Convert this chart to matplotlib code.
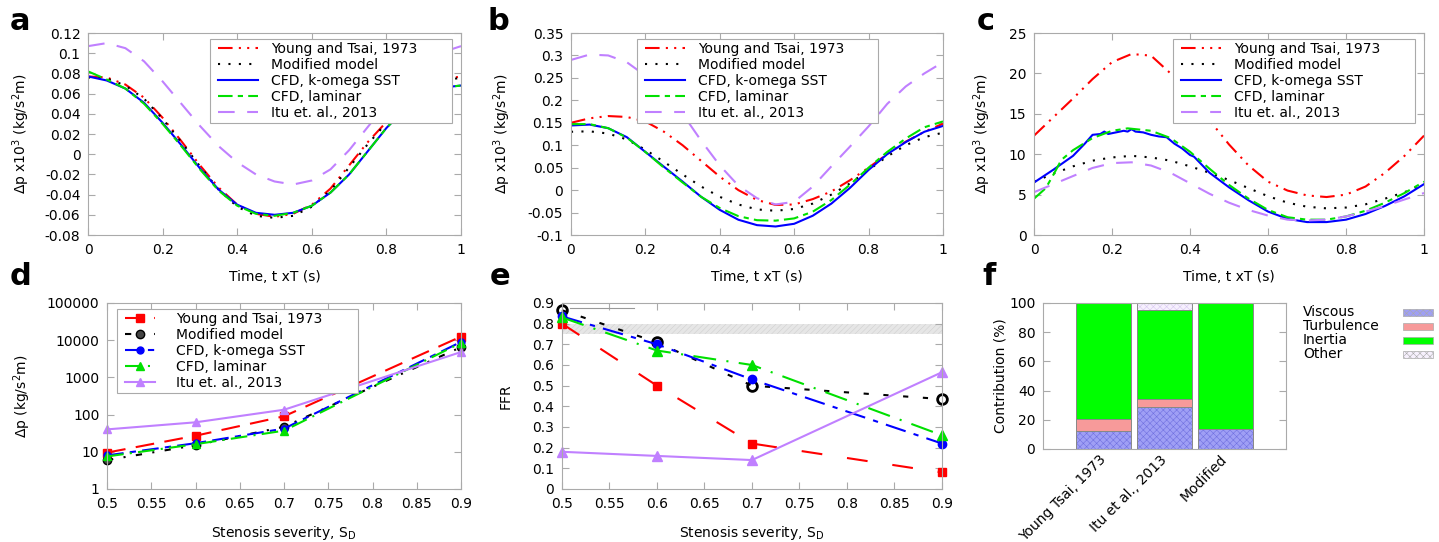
import matplotlib
matplotlib.use('Agg')
import numpy as np
import matplotlib.pyplot as plt
from matplotlib.patches import Rectangle
from matplotlib.ticker import FormatStrFormatter, FixedLocator, FixedFormatter

plt.rcParams['font.family'] = ['DejaVu Sans']
plt.rcParams['font.size'] = 10
plt.rcParams['axes.unicode_minus'] = False
plt.rcParams['mathtext.default'] = 'regular'
plt.rcParams['hatch.linewidth'] = 0.4

# ---- data ----
t = [0.0, 0.05, 0.1, 0.15, 0.2, 0.25, 0.3, 0.35, 0.4, 0.45, 0.5,
     0.55, 0.6, 0.65, 0.7, 0.75, 0.8, 0.85, 0.9, 0.95, 1.0]

# panel a
young_a = [0.077, 0.076, 0.069, 0.056, 0.036, 0.013, -0.011, -0.033, -0.050, -0.059, -0.062,
           -0.059, -0.050, -0.034, -0.011, 0.012, 0.032, 0.050, 0.065, 0.074, 0.077]
modified_a = [0.076, 0.075, 0.068, 0.055, 0.035, 0.012, -0.012, -0.035, -0.052, -0.061, -0.063,
              -0.061, -0.052, -0.036, -0.013, 0.010, 0.031, 0.049, 0.063, 0.072, 0.076]
sst_a = [0.077, 0.073, 0.065, 0.051, 0.031, 0.009, -0.014, -0.035, -0.050, -0.058, -0.060,
         -0.058, -0.051, -0.038, -0.020, 0.003, 0.026, 0.045, 0.059, 0.066, 0.068]
laminar_a = [0.082, 0.074, 0.065, 0.050, 0.030, 0.008, -0.015, -0.036, -0.051, -0.059, -0.061,
             -0.058, -0.051, -0.038, -0.020, 0.003, 0.026, 0.045, 0.059, 0.066, 0.068]
itu_a = [0.107, 0.110, 0.105, 0.092, 0.072, 0.050, 0.028, 0.008, -0.008, -0.020, -0.027,
         -0.030, -0.026, -0.015, 0.004, 0.027, 0.050, 0.072, 0.090, 0.101, 0.107]

# panel b
young_b = [0.150, 0.160, 0.165, 0.163, 0.153, 0.130, 0.100, 0.065, 0.030, 0.000, -0.022,
           -0.033, -0.032, -0.020, -0.003, 0.022, 0.050, 0.080, 0.108, 0.130, 0.148]
modified_b = [0.130, 0.131, 0.126, 0.113, 0.090, 0.063, 0.035, 0.008, -0.015, -0.032, -0.043,
              -0.046, -0.042, -0.030, -0.010, 0.015, 0.045, 0.075, 0.100, 0.118, 0.128]
sst_b = [0.144, 0.146, 0.138, 0.118, 0.085, 0.052, 0.019, -0.015, -0.044, -0.066, -0.078,
         -0.081, -0.075, -0.057, -0.030, 0.005, 0.045, 0.080, 0.107, 0.130, 0.143]
laminar_b = [0.147, 0.147, 0.138, 0.117, 0.085, 0.050, 0.017, -0.015, -0.040, -0.058, -0.067,
             -0.068, -0.063, -0.048, -0.022, 0.012, 0.050, 0.085, 0.115, 0.140, 0.153]
itu_b = [0.290, 0.302, 0.300, 0.285, 0.255, 0.215, 0.170, 0.110, 0.055, 0.010, -0.018,
         -0.032, -0.026, 0.008, 0.053, 0.097, 0.142, 0.192, 0.231, 0.260, 0.285]

# panel c
young_c = [12.3, 14.6, 16.9, 19.3, 21.4, 22.4, 22.2, 20.0, 17.3, 14.2, 11.2,
           8.6, 6.6, 5.5, 4.9, 4.7, 5.0, 6.0, 7.7, 9.8, 12.3]
modified_c = [6.6, 7.6, 8.5, 9.2, 9.6, 9.8, 9.6, 9.2, 8.5, 7.7, 6.8,
              5.8, 4.8, 4.0, 3.5, 3.3, 3.4, 3.8, 4.5, 5.3, 6.3]
t_sst_c = [0.0, 0.05, 0.1, 0.13, 0.15, 0.17, 0.18, 0.19, 0.21, 0.23, 0.24, 0.25, 0.26,
           0.28, 0.3, 0.32, 0.34, 0.36, 0.38, 0.4, 0.41, 0.45, 0.5, 0.55, 0.6, 0.65,
           0.7, 0.75, 0.8, 0.85, 0.9, 0.95, 1.0]
sst_c = [6.5, 8.1, 9.8, 11.3, 12.4, 12.5, 12.8, 12.5, 12.7, 12.9, 12.8, 13.1, 12.8,
         12.7, 12.4, 12.2, 12.1, 11.3, 10.7, 9.9, 9.7, 7.7, 5.9, 4.3, 2.9, 2.0,
         1.6, 1.6, 1.9, 2.6, 3.6, 4.8, 6.3]
t_lam_c = [0.0, 0.03, 0.05, 0.07, 0.1, 0.15, 0.2, 0.24, 0.3, 0.35, 0.4, 0.45, 0.5,
           0.55, 0.6, 0.65, 0.7, 0.75, 0.8, 0.85, 0.9, 0.95, 1.0]
laminar_c = [4.5, 5.8, 7.5, 9.3, 10.5, 12.0, 12.9, 13.2, 12.9, 12.0, 10.3, 8.2, 6.2,
             4.5, 3.1, 2.2, 1.9, 1.9, 2.3, 3.0, 4.0, 5.2, 6.6]
itu_c = [5.3, 6.3, 7.3, 8.3, 8.9, 9.0, 8.6, 7.7, 6.4, 5.1, 4.0,
         3.1, 2.4, 1.9, 1.8, 1.9, 2.3, 2.9, 3.6, 4.4, 5.2]

# panels d, e
severity = [0.5, 0.6, 0.7, 0.9]
young_d = [9.5, 27, 90, 12500]
modified_d = [6, 15, 47, 6500]
sst_d = [8, 17, 42, 9000]
laminar_d = [7.5, 16, 37, 8500]
itu_d = [40, 62, 135, 4800]

young_e = [0.80, 0.50, 0.22, 0.08]
modified_e = [0.865, 0.71, 0.50, 0.435]
sst_e = [0.835, 0.70, 0.53, 0.22]
laminar_e = [0.83, 0.67, 0.60, 0.26]
itu_e = [0.18, 0.16, 0.14, 0.565]
ffr_band = (0.75, 0.80)
ffr_line = 0.875

# panel f
models_f = ['Young Tsai, 1973', 'Itu et al., 2013', 'Modified']
viscous = [12.5, 29, 14]
turbulence = [8, 5.5, 0]
inertia = [79.5, 60.5, 86]
other = [0, 5, 0]

labels = ['Young and Tsai, 1973', 'Modified model', 'CFD, k-omega SST',
          'CFD, laminar', 'Itu et. al., 2013']

yticks_a = [-0.08, -0.06, -0.04, -0.02, 0, 0.02, 0.04, 0.06, 0.08, 0.1, 0.12]
yticks_b = [-0.1, -0.05, 0, 0.05, 0.1, 0.15, 0.2, 0.25, 0.3, 0.35]
yticks_c = [0, 5, 10, 15, 20, 25]
xticks_t = [0, 0.2, 0.4, 0.6, 0.8, 1]
xticks_s = [0.5, 0.55, 0.6, 0.65, 0.7, 0.75, 0.8, 0.85, 0.9]
yticks_e = [0, 0.1, 0.2, 0.3, 0.4, 0.5, 0.6, 0.7, 0.8, 0.9]

RED, BLACK, BLUE, GREEN, PURPLE = '#ff0000', '#000000', '#0000ff', '#00e000', '#c080ff'
GRAY = '#aaaaaa'

fig = plt.figure(figsize=(14.39, 5.42), dpi=100)


def style(ax):
    for s in ax.spines.values():
        s.set_color(GRAY)
    ax.tick_params(direction='in', top=True, right=True, color=GRAY, length=5,
                   labelsize=10, labelcolor='black')
    ax.tick_params(axis='y', pad=5.5)
    ax.tick_params(axis='x', pad=6)


def legend(ax, box, hl=2.9, htp=0.95):
    # gnuplot-like key: white box wider than its content, entries left aligned
    x0, y0, w, h = box
    ax.add_patch(Rectangle((x0, y0), w, h, transform=ax.transAxes, facecolor='white',
                           edgecolor=GRAY, linewidth=0.8, zorder=4.8, clip_on=False))
    axw = ax.get_position().width * 1439
    leg = ax.legend(fontsize=10, frameon=False, handlelength=hl, handletextpad=htp,
                    labelspacing=0.15, borderpad=0.2, loc='upper left',
                    bbox_to_anchor=(x0 + 5 / axw, y0 + h), borderaxespad=0)
    leg.set_zorder(5)
    return leg


# ---- top row: time traces ----
ylab = r'$\Delta$p x10$^3$ (kg/s$^2$m)'
top = [
    ([0.0612, 0.5664, 0.2592, 0.3727], young_a, modified_a, (t, sst_a), (t, laminar_a), itu_a,
     (-0.08, 0.12), yticks_a, (0.327, 0.554, 0.649, 0.416), -0.150),
    ([0.3968, 0.5664, 0.2585, 0.3727], young_b, modified_b, (t, sst_b), (t, laminar_b), itu_b,
     (-0.1, 0.35), yticks_b, (0.177, 0.554, 0.648, 0.416), -0.156),
    ([0.7186, 0.5664, 0.2710, 0.3727], young_c, modified_c, (t_sst_c, sst_c), (t_lam_c, laminar_c), itu_c,
     (0, 25), yticks_c, (0.356, 0.554, 0.621, 0.416), -0.105),
]
for rect, yt, mo, sst, lam, itu, ylim, yticks, box, ylx in top:
    ax = fig.add_axes(rect)
    ax.plot(t, yt, color=RED, lw=1.5, ls=(0, (7, 3, 1, 3, 1, 3)), label=labels[0])
    ax.plot(t, mo, color=BLACK, lw=1.5, ls=(0, (1, 4)), label=labels[1])
    ax.plot(sst[0], sst[1], color=BLUE, lw=1.5, label=labels[2])
    ax.plot(lam[0], lam[1], color=GREEN, lw=1.5, ls=(0, (7, 2.5, 2.5, 2.5)), label=labels[3])
    ax.plot(t, itu, color=PURPLE, lw=1.5, ls=(0, (8, 6)), label=labels[4])
    ax.set_xlim(0, 1)
    ax.set_ylim(*ylim)
    ax.set_yticks(yticks)
    ax.set_xticks(xticks_t)
    ax.xaxis.set_major_formatter(FormatStrFormatter('%g'))
    ax.yaxis.set_major_formatter(FormatStrFormatter('%g'))
    style(ax)
    ax.set_xlabel('Time, t xT (s)', fontsize=10, labelpad=9)
    ax.set_ylabel(ylab, fontsize=10)
    ax.yaxis.set_label_coords(ylx, 0.5)
    legend(ax, box)

# ---- d: log pressure drop vs severity ----
axd = fig.add_axes([0.0744, 0.0978, 0.2460, 0.3432])
axd.plot(severity, young_d, color=RED, lw=1.5, ls=(0, (9, 5)), marker='s', ms=6, label=labels[0])
axd.plot(severity, modified_d, color=BLACK, lw=1.5, ls=(0, (3, 5, 1, 5)), marker='o', ms=6,
         mfc='#444444', mec='black', label=labels[1])
axd.plot(severity, sst_d, color=BLUE, lw=1.5, ls=(0, (8, 3, 3, 3)), marker='o', ms=5, label=labels[2])
axd.plot(severity, laminar_d, color=GREEN, lw=1.5, ls=(0, (8, 3, 1, 3)), marker='^', ms=6, label=labels[3])
axd.plot(severity, itu_d, color=PURPLE, lw=1.5, marker='^', ms=6, label=labels[4])
axd.set_yscale('log')
axd.set_ylim(1, 100000)
axd.set_xlim(0.5, 0.9)
axd.yaxis.set_major_locator(FixedLocator([1, 10, 100, 1000, 10000, 100000]))
axd.yaxis.set_major_formatter(FixedFormatter(['1', '10', '100', '1000', '10000', '100000']))
axd.yaxis.set_minor_locator(FixedLocator([]))
axd.set_xticks(xticks_s)
axd.xaxis.set_major_formatter(FormatStrFormatter('%g'))
for ln in axd.lines:
    ln.set_clip_on(False)
style(axd)
axd.set_xlabel(r'Stenosis severity, S$_D$', fontsize=10, labelpad=9)
axd.set_ylabel(r'$\Delta$p (kg/s$^2$m)', fontsize=10)
axd.yaxis.set_label_coords(-0.209, 0.5)
legend(axd, (0.028, 0.516, 0.681, 0.452), hl=2.2, htp=1.5)

# ---- e: FFR vs severity ----
axe = fig.add_axes([0.3905, 0.0978, 0.2641, 0.3432])
axe.axhspan(ffr_band[0], ffr_band[1], facecolor='#e6e6e6', edgecolor='#d0d0d0', hatch='//////', lw=0)
axe.axhline(ffr_line, xmin=0.02, xmax=0.19, color='#999999', lw=0.8)
axe.plot(severity, young_e, color=RED, lw=1.5, ls=(0, (10, 12)), marker='s', ms=6)
axe.plot(severity, modified_e, color=BLACK, lw=1.5, ls=(0, (2.5, 7)), marker='o', ms=7,
         mfc='none', mec='black', mew=2)
axe.plot(severity, sst_e, color=BLUE, lw=1.5, ls=(0, (10, 4, 2.5, 4)), marker='o', ms=6)
axe.plot(severity, laminar_e, color=GREEN, lw=1.5, ls=(0, (11, 5, 1, 5)), marker='^', ms=7)
axe.plot(severity, itu_e, color=PURPLE, lw=1.5, marker='^', ms=7)
axe.set_xlim(0.5, 0.9)
axe.set_ylim(0, 0.9)
axe.set_yticks(yticks_e)
axe.set_xticks(xticks_s)
axe.xaxis.set_major_formatter(FormatStrFormatter('%g'))
axe.yaxis.set_major_formatter(FormatStrFormatter('%g'))
for ln in axe.lines:
    ln.set_clip_on(False)
style(axe)
axe.set_xlabel(r'Stenosis severity, S$_D$', fontsize=10, labelpad=9)
axe.set_ylabel('FFR', fontsize=10)
axe.yaxis.set_label_coords(-0.131, 0.5)

# ---- f: stacked contributions ----
axf = fig.add_axes([0.7248, 0.1716, 0.1689, 0.2694])
x = np.arange(len(models_f))
parts = [
    ('Viscous', viscous, '#9f9ff5', '#7070e0', 'xxxxx'),
    ('Turbulence', turbulence, '#f79a9a', '#f79a9a', None),
    ('Inertia', inertia, '#00ff00', '#00ff00', None),
    ('Other', other, '#f6f0fd', '#d8c8f0', 'xxxxx'),
]
bottom = np.zeros(len(models_f))
for name, vals, fc, hc, hatch in parts:
    axf.bar(x, vals, width=0.9, bottom=bottom, color=fc, hatch=hatch,
            edgecolor=hc, linewidth=0)
    axf.bar(x, vals, width=0.9, bottom=bottom, fill=False, edgecolor='#888888', linewidth=0.7)
    bottom = bottom + np.array(vals)
axf.set_xlim(-1.0, 3.0)
axf.set_ylim(0, 100)
axf.set_yticks([0, 20, 40, 60, 80, 100])
axf.set_xticks(x)
axf.set_xticklabels(models_f, rotation=45, ha='right', va='center', rotation_mode='anchor')
style(axf)
axf.tick_params(axis='x', length=0, pad=6)
axf.set_ylabel('Contribution (%)', fontsize=10)
axf.yaxis.set_label_coords(-0.144, 0.5)

# f legend: text left, swatch right
for i, (name, vals, fc, hc, hatch) in enumerate(parts):
    yc = 1 - (312 + 14 * i) / 542
    fig.text(1303 / 1439, yc, name, fontsize=10, va='center', ha='left')
    fig.patches.append(Rectangle((1403 / 1439, yc - 3.5 / 542), 30 / 1439, 7 / 542,
                                 transform=fig.transFigure, facecolor=fc, edgecolor='#aaaaaa',
                                 hatch=hatch, linewidth=0.5))

# panel letters
for lab, px, py in [('a', 10, 30), ('b', 488, 30), ('c', 977, 30),
                    ('d', 10, 285), ('e', 490, 285), ('f', 982, 285)]:
    fig.text(px / 1439, 1 - py / 542, lab, fontsize=22, fontweight='bold', va='baseline')

fig.savefig('out.png', dpi=100)
